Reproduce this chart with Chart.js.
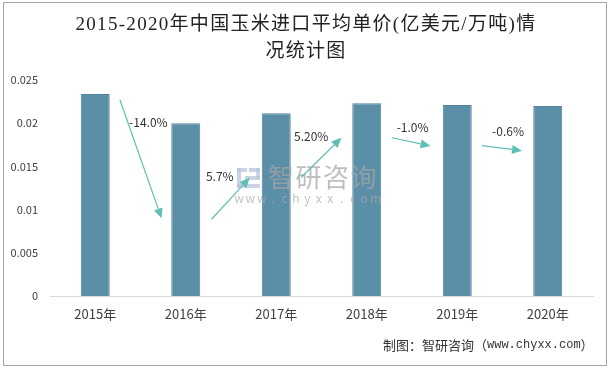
<!DOCTYPE html>
<html><head><meta charset="utf-8">
<script src="https://cdn.jsdelivr.net/npm/chart.js@4"></script>
<style>html,body{margin:0;padding:0;background:#fff}canvas{display:block}</style>
</head><body>
<canvas id="c" width="613" height="369"></canvas>
<script>
const categories = ['2015年','2016年','2017年','2018年','2019年','2020年'];
const unitPrice = [0.02338, 0.0200, 0.02115, 0.0223, 0.0221, 0.0220];
const yTickLabels = ['0','0.005','0.01','0.015','0.02','0.025'];
const growthLabels = ['-14.0%','5.7%','5.20%','-1.0%','-0.6%'];
// annotation anchors in data units: [category index, value]
const arrowStart = [[0.273,0.02269],[1.285,0.00888],[2.278,0.01374],[3.278,0.01832],[4.272,0.0174]];
const arrowEnd   = [[0.733,0.00899],[1.707,0.01369],[2.720,0.01832],[3.705,0.01736],[4.716,0.01682]];
const labelPos   = [[0.587,0.02014],[1.376,0.01389],[2.386,0.01852],[3.507,0.01953],[4.561,0.0191]];

const titleLines = ['2015-2020年中国玉米进口平均单价(亿美元/万吨)情','况统计图'];
const sourceParts = ['制图：智研咨询（', 'www.chyxx.com', '）'];

const SANS = '"Noto Sans CJK SC","DejaVu Sans",sans-serif';
const SERIF = '"Liberation Serif","Noto Sans CJK SC",serif';
const MONO = '"Liberation Mono","Noto Sans CJK SC",monospace';

const deco = {
  id: 'deco',
  beforeDraw(chart) {
    const ctx = chart.ctx;
    ctx.save();
    ctx.fillStyle = '#fff';
    ctx.fillRect(0, 0, chart.width, chart.height);
    ctx.restore();
  },
  afterDatasetsDraw(chart) {
    const ctx = chart.ctx;
    const xs = chart.scales.x, ys = chart.scales.y;
    ctx.save();
    // watermark
    ctx.fillStyle = 'rgba(185,198,222,0.75)';
    ctx.fillRect(237, 168, 10, 4);
    ctx.fillRect(237, 168, 4, 20);
    ctx.fillRect(237, 184, 23, 4);
    ctx.fillRect(249, 168, 11, 4);
    ctx.fillRect(256, 168, 4, 11);
    ctx.fillRect(245, 176, 15, 4);
    ctx.fillStyle = 'rgba(165,165,165,0.72)';
    ctx.font = '26px ' + SANS;
    ctx.textBaseline = 'middle';
    ctx.textAlign = 'left';
    ctx.letterSpacing = '1.5px';
    ctx.fillText('智研咨询', 268, 177);
    ctx.letterSpacing = '0px';
    ctx.font = '12px ' + SANS;
    ctx.fillStyle = 'rgba(170,170,170,0.7)';
    ctx.textAlign = 'center';
    'www.chyxx.com'.split('').forEach((ch, i) => ctx.fillText(ch, 239 + i * 11.4, 198));

    // arrows
    ctx.strokeStyle = '#5fbeb6';
    ctx.fillStyle = '#5fbeb6';
    ctx.lineWidth = 1.2;
    for (let i = 0; i < arrowStart.length; i++) {
      const x1 = xs.getPixelForValue(arrowStart[i][0]), y1 = ys.getPixelForValue(arrowStart[i][1]);
      const x2 = xs.getPixelForValue(arrowEnd[i][0]), y2 = ys.getPixelForValue(arrowEnd[i][1]);
      const a = Math.atan2(y2 - y1, x2 - x1);
      const L = 10, W = 4.5;
      const bx = x2 - L * Math.cos(a), by = y2 - L * Math.sin(a);
      ctx.beginPath();
      ctx.moveTo(x1, y1);
      ctx.lineTo(bx, by);
      ctx.stroke();
      ctx.beginPath();
      ctx.moveTo(x2, y2);
      ctx.lineTo(bx + W * Math.sin(a), by - W * Math.cos(a));
      ctx.lineTo(bx - W * Math.sin(a), by + W * Math.cos(a));
      ctx.closePath();
      ctx.fill();
    }
    // labels
    ctx.fillStyle = '#333';
    ctx.font = '12px ' + SANS;
    ctx.textAlign = 'center';
    ctx.textBaseline = 'middle';
    for (let i = 0; i < growthLabels.length; i++) {
      ctx.fillText(growthLabels[i], xs.getPixelForValue(labelPos[i][0]), ys.getPixelForValue(labelPos[i][1]));
    }
    ctx.restore();
  },
  afterDraw(chart) {
    const ctx = chart.ctx;
    ctx.save();
    // title
    ctx.fillStyle = '#222';
    ctx.font = '19px ' + SERIF;
    ctx.textAlign = 'center';
    ctx.textBaseline = 'middle';
    ctx.letterSpacing = '1.3px';
    ctx.fillText(titleLines[0], 306, 25);
    ctx.fillText(titleLines[1], 306, 52);
    ctx.letterSpacing = '0px';
    // source
    ctx.textAlign = 'left';
    ctx.fillStyle = '#333';
    let x = 383;
    ctx.font = '13px ' + SANS;
    ctx.fillText(sourceParts[0], x, 345);
    x += ctx.measureText(sourceParts[0]).width;
    ctx.font = '12px ' + MONO;
    ctx.fillText(sourceParts[1], x, 345);
    x += ctx.measureText(sourceParts[1]).width;
    ctx.font = '13px ' + SANS;
    ctx.fillText(sourceParts[2], x, 345);
    // frame
    ctx.strokeStyle = '#a6a6a6';
    ctx.lineWidth = 1;
    ctx.strokeRect(3.5, 2.5, 603, 363);
    ctx.restore();
  }
};

new Chart(document.getElementById('c'), {
  type: 'bar',
  data: {
    labels: categories,
    datasets: [{
      data: unitPrice,
      backgroundColor: '#5b8fa8',
      borderColor: '#52849c',
      borderWidth: 1,
      categoryPercentage: 1,
      barPercentage: 0.32
    }]
  },
  options: {
    responsive: false,
    animation: false,
    devicePixelRatio: 1,
    layout: { padding: { top: 80, right: 20, left: 0, bottom: 0 } },
    plugins: { legend: { display: false }, title: { display: false }, tooltip: { enabled: false } },
    scales: {
      x: {
        grid: { display: false, drawTicks: false },
        border: { display: true, color: '#d9d9d9', width: 1 },
        ticks: { color: '#404040', font: { size: 13, family: SANS }, padding: 10 },
        afterFit(s) { s.height = 73; }
      },
      y: {
        min: 0, max: 0.025,
        grid: { display: false, drawTicks: false },
        border: { display: false },
        ticks: {
          stepSize: 0.005,
          color: '#404040',
          font: { size: 11, family: SANS },
          padding: 12,
          callback: (v, i) => yTickLabels[i]
        },
        afterFit(s) { s.width = 50; }
      }
    }
  },
  plugins: [deco]
});
</script>
</body></html>
